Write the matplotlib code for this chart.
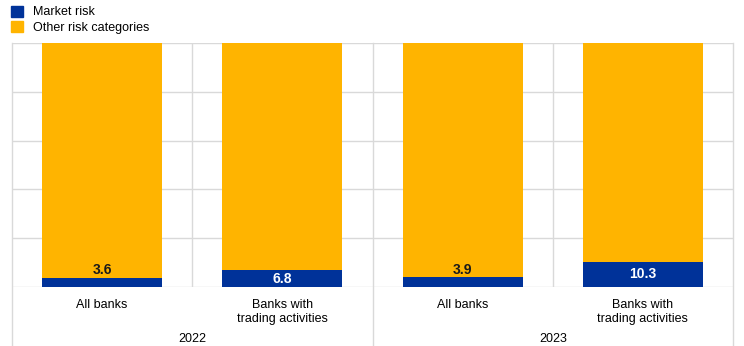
import matplotlib.pyplot as plt
import numpy as np
from matplotlib.patches import Patch

plt.rcParams['font.family'] = ['Liberation Sans', 'DejaVu Sans']

# === Données ===
categories = ["All banks", "Banks with\ntrading activities", "All banks", "Banks with\ntrading activities"]
years = ["2022", "2023"]
market_risk = [3.6, 6.8, 3.9, 10.3]
other_risk = [100 - v for v in market_risk]

bleu = '#003299'
jaune = '#FFB400'
gris = '#d9d9d9'

fig = plt.figure(figsize=(7.44, 3.46), dpi=100)
ax = fig.add_axes([12 / 744, 1 - 287 / 346, (733 - 12) / 744, (287 - 43) / 346])

x = np.arange(len(categories)) + 0.5
ax.bar(x, market_risk, width=2 / 3, color=bleu, zorder=3)
ax.bar(x, other_risk, bottom=market_risk, width=2 / 3, color=jaune, zorder=3)

# Étiquettes des valeurs
for xi, v in zip(x, market_risk):
    if v < 5:
        ax.text(xi, v + 0.4, f"{v:.1f}", ha='center', va='bottom', fontsize=10,
                fontweight='bold', color='#1a1a1a', zorder=4)
    else:
        ax.text(xi, v / 2, f"{v:.1f}", ha='center', va='center', fontsize=10,
                fontweight='bold', color='white', zorder=4)

ax.set_xlim(0, 4)
ax.set_ylim(0, 100)
ax.set_yticks(np.arange(0, 101, 20))
ax.set_yticklabels([])
ax.tick_params(axis='y', length=0)
ax.grid(axis='y', color=gris, linewidth=1, zorder=0)

ax.set_xticks(x)
ax.set_xticklabels(categories, fontsize=9, linespacing=1.15)
ax.tick_params(axis='x', length=0, pad=9)

for s in ax.spines.values():
    s.set_visible(False)

# Séparateurs verticaux
trans = ax.get_xaxis_transform()
for xs in [1, 3]:
    ax.plot([xs, xs], [0, 1], transform=trans, color=gris, linewidth=1, zorder=1)
for xs in [0, 2, 4]:
    ax.plot([xs, xs], [-0.25, 1], transform=trans, color=gris, linewidth=1,
            clip_on=False, zorder=1)

# Années
for i, an in enumerate(years):
    ax.text(2 * i + 1, -0.215, an, transform=trans, ha='center', va='center', fontsize=9)

# Légende
handles = [Patch(color=bleu, label="Market risk"), Patch(color=jaune, label="Other risk categories")]
fig.legend(handles=handles, loc='upper left', bbox_to_anchor=(0.005, 1.005), frameon=False,
           fontsize=9, handlelength=0.95, handleheight=0.95, handletextpad=0.8,
           labelspacing=0.2, borderaxespad=0.2)

fig.savefig("out.png", dpi=100)
